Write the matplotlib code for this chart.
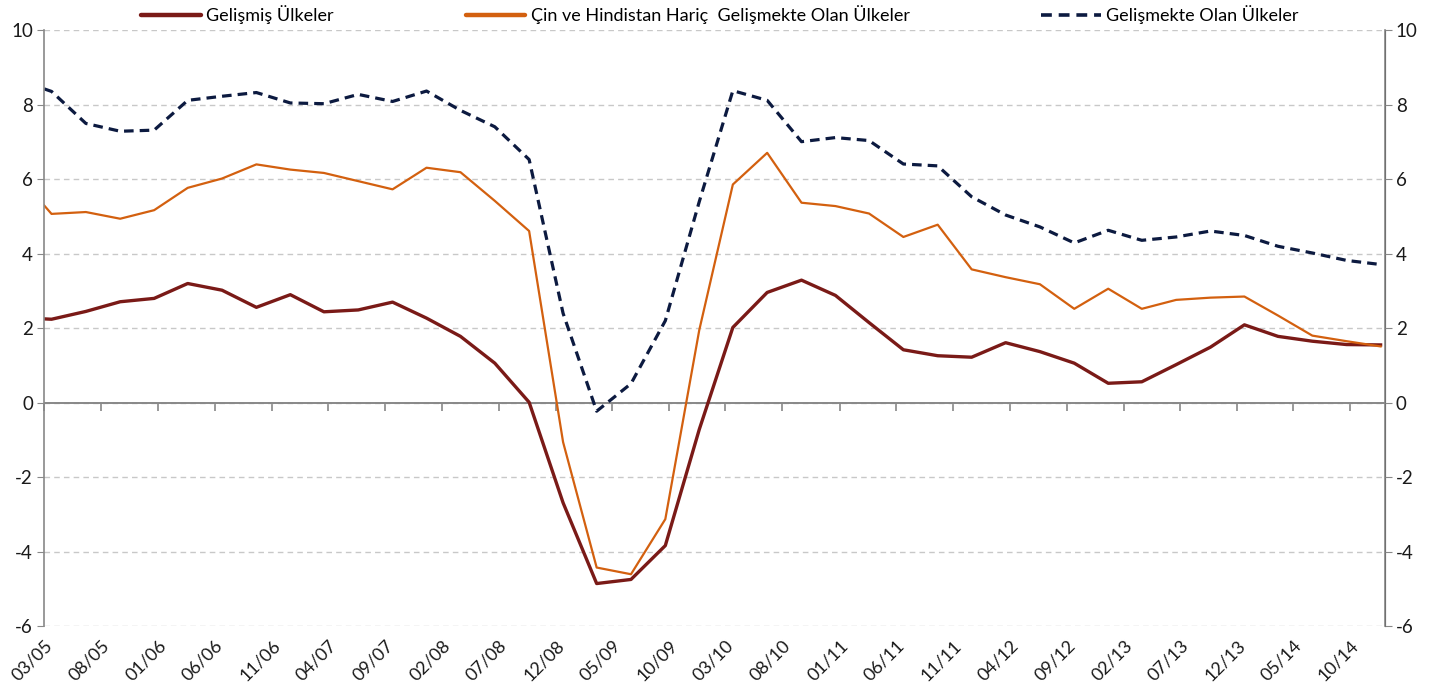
import pandas as pd
import numpy as np
import matplotlib
matplotlib.use('Agg')
import matplotlib.pyplot as plt
import matplotlib.dates as mdates

plt.rcParams['font.family'] = ['Lato', 'DejaVu Sans']
plt.rcParams['axes.unicode_minus'] = False

#--------data (first point at axis start, then quarterly)
dates = [pd.Timestamp('2005-03-01')] + list(pd.date_range('2005-03-21', periods=40, freq=pd.DateOffset(months=3)))

gelismis = [2.25, 2.24, 2.45, 2.71, 2.80, 3.20, 3.02, 2.56, 2.90, 2.44, 2.49, 2.70, 2.27, 1.78, 1.06,
            0.01, -2.69, -4.86, -4.75, -3.84, -0.72, 2.02, 2.96, 3.29, 2.88, 2.15, 1.42, 1.26, 1.22,
            1.61, 1.37, 1.06, 0.52, 0.56, 1.02, 1.49, 2.09, 1.78, 1.65, 1.56, 1.55]
cin_hind_haric = [5.30, 5.07, 5.12, 4.94, 5.17, 5.77, 6.02, 6.40, 6.26, 6.17, 5.95, 5.73, 6.31, 6.19,
                  5.42, 4.61, -1.06, -4.43, -4.61, -3.13, 1.95, 5.86, 6.71, 5.37, 5.28, 5.08, 4.45,
                  4.78, 3.58, 3.37, 3.18, 2.52, 3.06, 2.52, 2.76, 2.82, 2.85, 2.34, 1.80, 1.65, 1.51]
gelismekte = [8.43, 8.36, 7.50, 7.29, 7.32, 8.12, 8.23, 8.33, 8.05, 8.03, 8.28, 8.09, 8.37, 7.85,
              7.41, 6.53, 2.40, -0.23, 0.51, 2.20, 5.40, 8.38, 8.12, 7.01, 7.12, 7.04, 6.41, 6.36,
              5.53, 5.04, 4.72, 4.29, 4.63, 4.36, 4.45, 4.61, 4.49, 4.20, 4.02, 3.82, 3.71]

labels = ['Gelişmiş Ülkeler', 'Çin ve Hindistan Hariç  Gelişmekte Olan Ülkeler', 'Gelişmekte Olan Ülkeler']
xticks = pd.date_range('2005-03-01', '2014-10-01', freq='5MS')
yticks = np.arange(-6, 11, 2)

fig = plt.figure(figsize=(14.4, 6.95), dpi=100)
ax = fig.add_axes([0.0306, 0.0993, 0.931, 0.857])

l1, = ax.plot(dates, gelismis, color='#7a1a17', lw=2.4)
l2, = ax.plot(dates, cin_hind_haric, color='#d3600f', lw=1.6)
l3, = ax.plot(dates, gelismekte, color='#0c1a40', lw=2.3, dashes=(3, 1.9))

ax.set_xlim(pd.Timestamp('2005-03-01'), pd.Timestamp('2015-01-01'))
ax.set_ylim(-6, 10)
ax.set_yticks(yticks)
ax.set_yticklabels([str(v) for v in yticks])
ax.yaxis.grid(True, color='#c8c8c8', ls=(0, (4, 3)), lw=1)
ax.set_axisbelow(True)

ax.set_xticks(xticks)
ax.xaxis.set_major_formatter(mdates.DateFormatter('%m/%y'))
plt.setp(ax.get_xticklabels(), rotation=45, ha='right', rotation_mode='anchor', fontsize=13, color='#1a1a1a')
ax.tick_params(axis='x', length=0, pad=8)
ax.tick_params(axis='y', length=5, color='#888888', labelsize=13.5, labelcolor='#1a1a1a', pad=3)

for s in ['top', 'bottom']:
    ax.spines[s].set_visible(False)
ax.spines['left'].set_color('#888888')
ax.spines['left'].set_linewidth(1.2)

# zero line with its ticks
ax.axhline(0, color='#888888', lw=1.4, zorder=1)
sec = ax.secondary_xaxis(6 / 16.0)
sec.set_xticks(xticks)
sec.tick_params(axis='x', direction='out', length=6, width=1.2, color='#888888', labelbottom=False, labeltop=False)
sec.spines['bottom'].set_visible(False)

ax2 = ax.twinx()
ax2.set_ylim(-6, 10)
ax2.set_yticks(yticks)
ax2.set_yticklabels([str(v) for v in yticks])
ax2.tick_params(axis='y', length=5, color='#888888', labelsize=13.5, labelcolor='#1a1a1a', pad=3)
for s in ['top', 'bottom', 'left']:
    ax2.spines[s].set_visible(False)
ax2.spines['right'].set_color('#888888')
ax2.spines['right'].set_linewidth(1.2)

leg = fig.legend([l1, l2, l3], labels, loc='center', bbox_to_anchor=(0.5, 1 - 15 / 695), ncol=3,
                 frameon=False, fontsize=13, handlelength=3.3, handletextpad=0.3, columnspacing=7.3,
                 borderaxespad=0)
for h in leg.legend_handles:
    h.set_linewidth(3.2)
    h.set_solid_capstyle('round')
leg.legend_handles[2].set_linewidth(2.6)

plt.savefig('out.png', dpi=100)
